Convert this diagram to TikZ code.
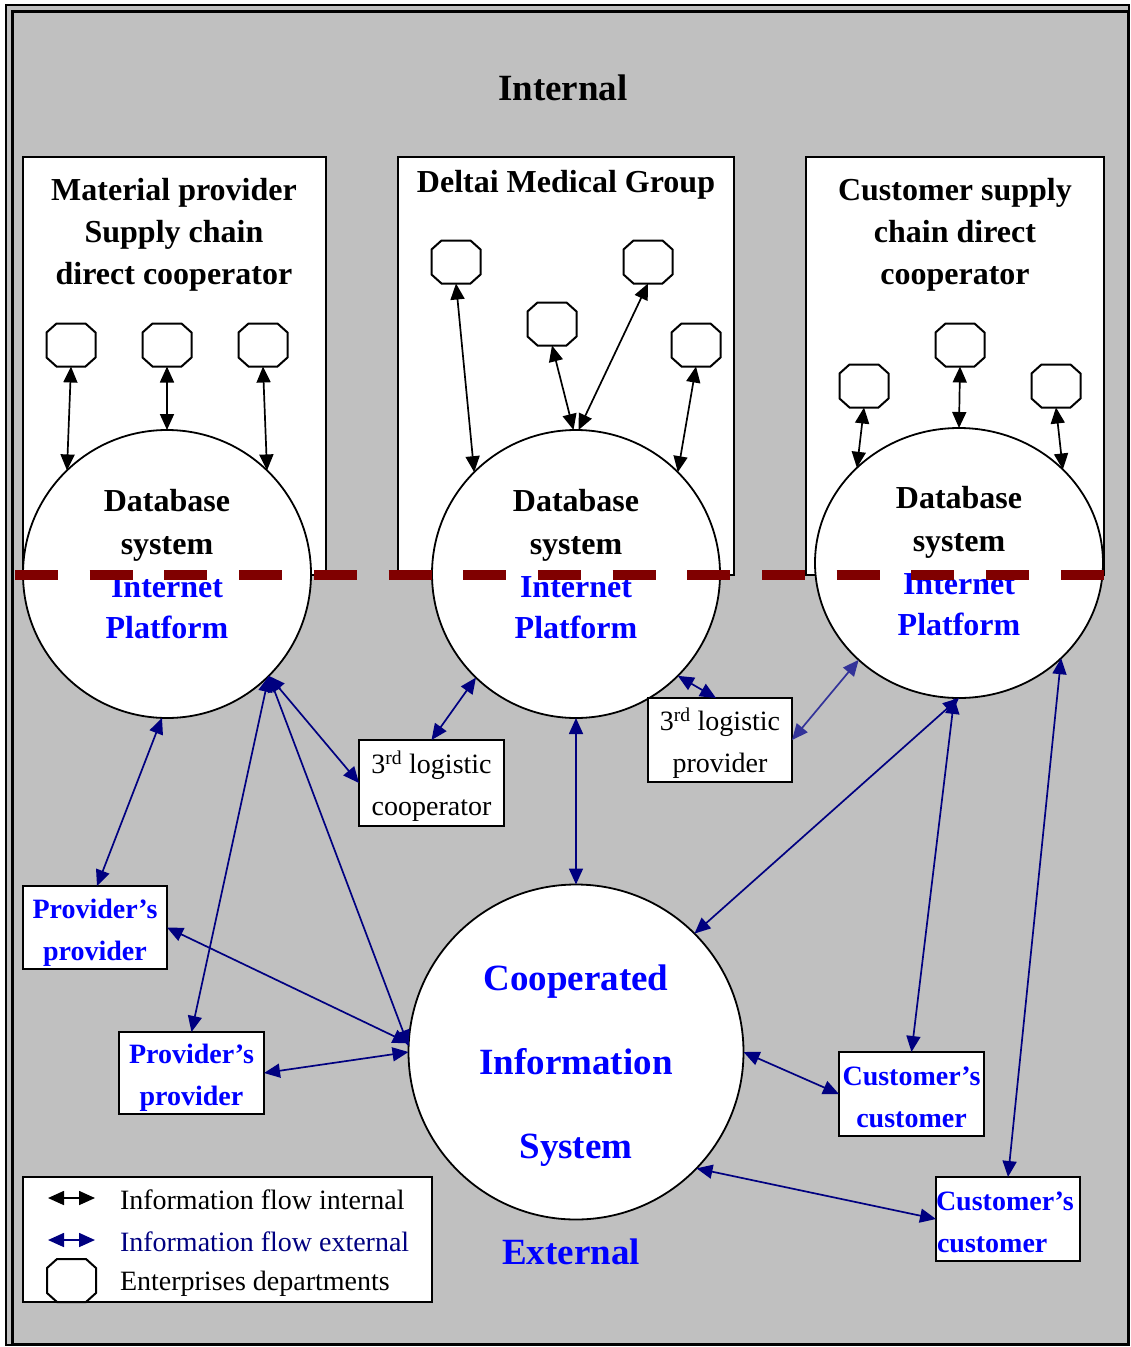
\documentclass[tikz,border=0pt]{standalone}
\usepackage{fontspec}
\setmainfont{Liberation Serif}
\usetikzlibrary{arrows.meta,shapes.geometric}

\definecolor{panel}{HTML}{C0C0C0}
\definecolor{navy}{HTML}{000080}
\definecolor{softnavy}{HTML}{333399}
\definecolor{divider}{HTML}{800000}
\definecolor{pureblue}{HTML}{0000FF}

\tikzset{
  every node/.style={inner sep=0pt, outer sep=0pt},
  orgframe/.style={draw=black, fill=white, line width=1.8pt},
  platform/.style={circle, draw=black, fill=white, line width=1.8pt},
  infobox/.style={rectangle, draw=black, fill=white, line width=1.8pt, align=center},
  deptbox/.style={rectangle, minimum width=49pt, minimum height=43pt},
  octline/.style={draw=black, fill=white, line width=2pt, line join=miter},
  flowtips/.style={arrows={Triangle[length=16pt,width=14pt]-Triangle[length=16pt,width=14pt]}},
  intflow/.style={draw=black, line width=1.7pt, flowtips},
  extflow/.style={draw=navy, line width=1.7pt, flowtips},
  titlefnt/.style={font=\fontsize{32}{42}\selectfont\bfseries, align=center},
  dbfnt/.style={font=\fontsize{32}{43}\selectfont\bfseries, align=center},
  netfnt/.style={font=\fontsize{32}{41}\selectfont\bfseries, text=pureblue, align=center},
  bigfnt/.style={font=\fontsize{37}{84}\selectfont\bfseries, text=pureblue, align=center},
  boxfnt/.style={font=\fontsize{28}{42}\selectfont},
  partyfnt/.style={font=\fontsize{28}{42}\selectfont\bfseries, text=pureblue},
  legendfnt/.style={font=\fontsize{28}{34}\selectfont, anchor=west},
}

% an enterprise department: octagon drawn round a named anchor box
\newcommand\deptnode[2]{%
  \node[deptbox] (#1) at (#2) {};
  \path[octline] ([xshift=10pt]#1.north west) -- ([xshift=-10pt]#1.north east)
    -- ([yshift=-9pt]#1.north east) -- ([yshift=9pt]#1.south east)
    -- ([xshift=-10pt]#1.south east) -- ([xshift=10pt]#1.south west)
    -- ([yshift=9pt]#1.south west) -- ([yshift=-9pt]#1.north west) -- cycle;}

% two lines of box text, lowered a little inside their frame
\newcommand\boxlines[3]{\raisebox{-#1}[\height][\depth]{\parbox{142pt}{#2 #3}}}

\begin{document}
\begin{tikzpicture}[x=1pt,y=-1pt]
\useasboundingbox (0,0) rectangle (1131,1347);

% page frame
\fill[white] (0,0) rectangle (1131,1347);
\draw[fill=panel, line width=1.5pt] (6,5) rectangle (1129,1345);
\draw[line width=3pt] (12,11) rectangle (1128,1344);

\node[font=\fontsize{37}{44}\selectfont\bfseries] (internal) at (563,88) {Internal};

% the three internal organisations
\draw[orgframe] (23,157) rectangle (326,575);
\draw[orgframe] (398,157) rectangle (734,575);
\draw[orgframe] (806,157) rectangle (1104,575);

\node[titlefnt] (ttlL) at (174,235) {Material provider\\Supply chain\\direct cooperator};
\node[titlefnt] (ttlM) at (566,185) {Deltai Medical Group};
\node[titlefnt] (ttlR) at (955,235) {Customer supply\\chain direct\\cooperator};

% database systems / internet platforms
\node[platform, minimum size=288pt] (L) at (167,574) {};
\node[platform, minimum size=288pt] (M) at (576,574) {};
\node[ellipse, draw=black, fill=white, line width=1.8pt,
      minimum width=288pt, minimum height=270pt] (R) at (959,563) {};
\node[platform, minimum size=335pt] (C) at (576,1052) {};

% departments
\deptnode{oL1}{71,345}
\deptnode{oL2}{167,345}
\deptnode{oL3}{263,345}
\deptnode{oM1}{456,262}
\deptnode{oM2}{648,262}
\deptnode{oM3}{552,324}
\deptnode{oM4}{696,345}
\deptnode{oR1}{864,386}
\deptnode{oR2}{960,345}
\deptnode{oR3}{1056,386}

% boxes of the external partners
\node[infobox, boxfnt, minimum width=145pt, minimum height=86pt] (coop) at (431.5,783)
  {\boxlines{3pt}{\centering 3\textsuperscript{rd} logistic\\}{cooperator}};
\node[infobox, boxfnt, minimum width=144pt, minimum height=84pt] (prov) at (720,740)
  {\boxlines{3pt}{\centering 3\textsuperscript{rd} logistic\\}{provider}};
\node[infobox, partyfnt, minimum width=144pt, minimum height=83pt] (pp1) at (95,927.5)
  {\boxlines{5pt}{\centering Provider’s\\}{provider}};
\node[infobox, partyfnt, minimum width=145pt, minimum height=82pt] (pp2) at (191.5,1073)
  {\boxlines{5pt}{\centering Provider’s\\}{provider}};
\node[infobox, partyfnt, minimum width=145pt, minimum height=84pt] (cc1) at (911.5,1094)
  {\boxlines{3pt}{\centering Customer’s\\}{customer}};
\node[infobox, partyfnt, minimum width=144pt, minimum height=84pt] (cc2) at (1008,1219)
  {\boxlines{3pt}{\raggedright\hspace*{-1pt}Customer’s\\}{customer}};

% internal flows
\draw[intflow] (oL1.south) -- (L.134);
\draw[intflow] (oL2.south) -- (L.90);
\draw[intflow] (oL3.south) -- (L.46);
\draw[intflow] (oM1.south) -- (M.135);
\draw[intflow] (oM3.south) -- (M.91);
\draw[intflow] (oM2.south) -- (M.89);
\draw[intflow] (oM4.south) -- (M.45);
\draw[intflow] (oR1.south) -- (R.137);
\draw[intflow] (oR2.south) -- (R.90);
\draw[intflow] (oR3.south) -- (R.42);

% external flows
\draw[extflow] (L.-92) -- ([xshift=2pt]pp1.north);
\draw[extflow] (L.-45) -- (coop.west);
\draw[extflow] (L.-45) -- (pp2.north);
\draw[extflow] (L.-45) -- (C.178);
\draw[extflow] (pp1.east) -- (C.177);
\draw[extflow] (pp2.east) -- (C.180);
\draw[extflow] (M.-134) -- (coop.north);
\draw[extflow] (M.south) -- (C.north);
\draw[extflow] (M.-45) -- ([xshift=-4pt]prov.north);
\draw[extflow, draw=softnavy] (R.-136) -- (prov.east);
\draw[extflow] (R.-90) -- (C.45);
\draw[extflow] (R.-92) -- (cc1.north);
\draw[extflow] (R.-43) -- (cc2.north);
\draw[extflow] (C.east) -- (cc1.west);
\draw[extflow] (C.-44) -- (cc2.west);

% texts of the platforms
\node[dbfnt] (dbL) at (167,525) {Database\\system};
\node[dbfnt] (dbM) at (576,525) {Database\\system};
\node[dbfnt] (dbR) at (959,522) {Database\\system};
\node[netfnt] (ipL) at (167,608) {Internet\\Platform};
\node[netfnt] (ipM) at (576,608) {Internet\\Platform};
\node[netfnt] (ipR) at (959,605) {Internet\\Platform};
\node[bigfnt] (cis) at (576,1066) {Cooperated\\Information\\System};
\node[font=\fontsize{37}{44}\selectfont\bfseries, text=pureblue] (external) at (571,1252) {External};

% internal / external boundary
\draw[divider, line width=10pt, dash pattern=on 43pt off 31.7pt] (15,575) -- (1104,575);

% legend
\node[rectangle, draw=black, fill=white, line width=1.8pt,
      minimum width=409pt, minimum height=125pt] (legend) at (227.5,1239.5) {};
\coordinate (la1) at (48,1198);
\coordinate (la2) at (95,1198);
\coordinate (lb1) at (48,1240);
\coordinate (lb2) at (95,1240);
\draw[intflow] (la1) -- (la2);
\draw[extflow] (lb1) -- (lb2);
\deptnode{oLg}{71.5,1280.5}
\node[legendfnt] (lgA) at (120,1200) {Information flow internal};
\node[legendfnt, text=navy] (lgB) at (120,1242) {Information flow external};
\node[legendfnt] (lgC) at (120,1284) {Enterprises departments};
\end{tikzpicture}
\end{document}
